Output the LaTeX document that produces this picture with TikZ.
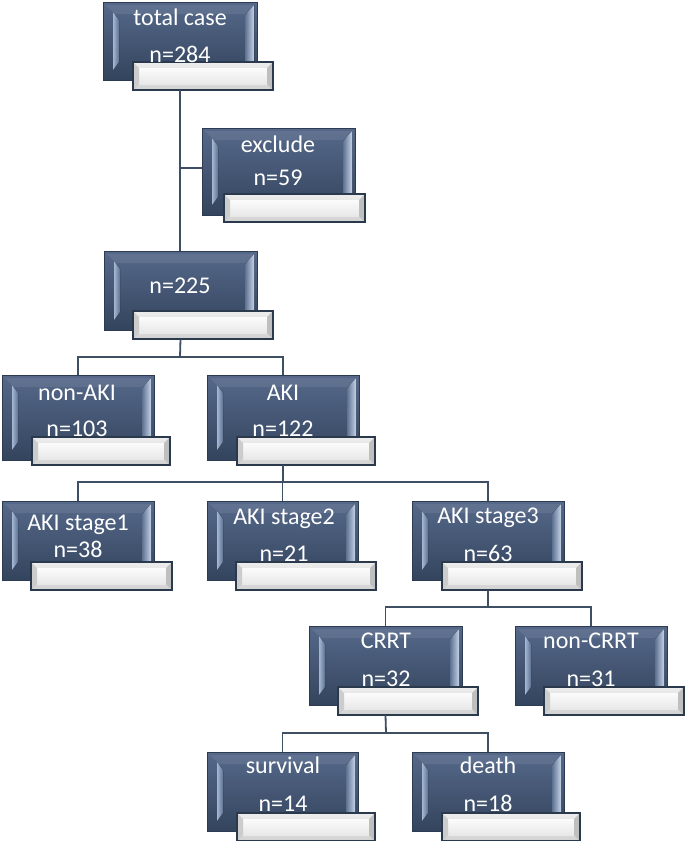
\documentclass[tikz,border=0pt]{standalone}
\usepackage{fontspec}
\setmainfont{Carlito}
\usetikzlibrary{calc}
\definecolor{boxtop}{HTML}{56698A}
\definecolor{boxbot}{HTML}{33445D}
\definecolor{boxedge}{HTML}{2C3B52}
\definecolor{bevelA}{HTML}{A4B7D2}
\definecolor{bevelB}{HTML}{5D7191}
\definecolor{bevelC}{HTML}{C5D3E6}
\definecolor{barA}{HTML}{EDEDED}
\definecolor{barB}{HTML}{D2D2D2}
\definecolor{baredge}{HTML}{2B394D}
\definecolor{conncol}{HTML}{3E4E63}
\tikzset{
  darkbox/.style={rectangle, inner sep=0pt, outer sep=0pt, draw=boxedge, line width=0.8pt,
    top color=boxtop, bottom color=boxbot,
    path picture={
      \coordinate (pnw) at (path picture bounding box.north west);
      \coordinate (pse) at (path picture bounding box.south east);
      \coordinate (psw) at (path picture bounding box.south west);
      \coordinate (pne) at (path picture bounding box.north east);
      \fill[left color=bevelA, right color=bevelB]
        ($(pnw)+(10,10)$) -- ($(pnw)+(16,18)$) -- ($(psw)+(16,-18)$) -- ($(psw)+(10,-10)$) -- cycle;
      \fill[left color=bevelB, right color=bevelC]
        ($(pne)+(-12,13)$) -- ($(pne)+(-3,3)$) -- ($(pse)+(-3,-3)$) -- ($(pse)+(-12,-13)$) -- cycle;
      \fill[boxtop!80!white, opacity=0.35]
        ($(pnw)+(3,3)$) -- ($(pne)+(-3,3)$) -- ($(pne)+(-12,12)$) -- ($(pnw)+(12,12)$) -- cycle;
    }},
  lightbar/.style={rectangle, inner sep=0pt, outer sep=0pt, minimum height=28pt,
    draw=baredge, line width=1.2pt, top color=barA, bottom color=barB,
    path picture={
      \coordinate (qnw) at (path picture bounding box.north west);
      \coordinate (qse) at (path picture bounding box.south east);
      \coordinate (qsw) at (path picture bounding box.south west);
      \coordinate (qne) at (path picture bounding box.north east);
      \fill[top color=white!97!gray, bottom color=gray!18] ($(qnw)+(6,6)$) rectangle ($(qse)+(-6,-6)$);
      \fill[gray!40] ($(qnw)+(1,1)$) -- ($(qnw)+(6,6)$) -- ($(qsw)+(6,-6)$) -- ($(qsw)+(1,-1)$) -- cycle;
      \fill[gray!50] ($(qne)+(-1,1)$) -- ($(qne)+(-6,6)$) -- ($(qse)+(-6,-6)$) -- ($(qse)+(-1,-1)$) -- cycle;
    }},
  txt/.style={text=white, font=\fontsize{24}{28}\selectfont, anchor=base, inner sep=0pt},
  conn/.style={draw=conncol, line width=1.8pt}
}
\newcommand\mkbox[5]{\node[darkbox, minimum width=#4pt, minimum height=#5pt, anchor=north west] (#1) at (#2,#3) {};}
\newcommand\mkbar[4]{\node[lightbar, minimum width=#4pt, anchor=north west] (#1) at (#2,#3) {};}
\begin{document}
\begin{tikzpicture}[x=1pt, y=-1pt]
\useasboundingbox (0,0) rectangle (685,841);
\fill[white] (0,0) rectangle (685,841);

% total case
\mkbox{total}{103}{2}{154}{78}
\mkbar{totalbar}{133}{62}{140}
\node[txt] (totalt1) at (180,25) {total case};
\node[txt] (totalt2) at (180,62) {n=284};

% exclude
\mkbox{exclude}{202}{128}{153}{87}
\mkbar{exclbar}{224}{194}{141}
\node[txt] (exclt1) at (278,152) {exclude};
\node[txt] (exclt2) at (278,185) {n=59};

% n=225
\mkbox{nmain}{104}{251}{153}{79}
\mkbar{nmainbar}{133}{311}{140}
\node[txt] (nmaint) at (180,293) {n=225};

% non-AKI / AKI
\mkbox{nonaki}{2}{375}{152}{85}
\mkbar{nonakibar}{32}{437}{138}
\node[txt] (nonakit1) at (77,400) {non-AKI};
\node[txt] (nonakit2) at (77,436) {n=103};

\mkbox{aki}{207}{375}{152}{85}
\mkbar{akibar}{237}{437}{138}
\node[txt] (akit1) at (283,400) {AKI};
\node[txt] (akit2) at (283,436) {n=122};

% stages
\mkbox{stageA}{2}{501}{152}{79}
\mkbar{stageAbar}{31}{562}{141}
\node[txt] (stageAt1) at (78,530) {AKI stage1};
\node[txt] (stageAt2) at (78,557) {n=38};

\mkbox{stageB}{207}{501}{151}{79}
\mkbar{stageBbar}{236}{562}{140}
\node[txt] (stageBt1) at (284,524) {AKI stage2};
\node[txt] (stageBt2) at (284,561) {n=21};

\mkbox{stageC}{412}{501}{152}{79}
\mkbar{stageCbar}{442}{562}{140}
\node[txt] (stageCt1) at (488,523) {AKI stage3};
\node[txt] (stageCt2) at (488,561) {n=63};

% CRRT
\mkbox{crrt}{309}{626}{153}{79}
\mkbar{crrtbar}{338}{687}{140}
\node[txt] (crrtt1) at (386,648) {CRRT};
\node[txt] (crrtt2) at (386,686) {n=32};

\mkbox{noncrrt}{515}{626}{152}{79}
\mkbar{noncrrtbar}{544}{687}{140}
\node[txt] (noncrrtt1) at (591,648) {non-CRRT};
\node[txt] (noncrrtt2) at (591,686) {n=31};

% outcome
\mkbox{surv}{207}{752}{151}{79}
\mkbar{survbar}{237}{813}{138}
\node[txt] (survt1) at (283,773) {survival};
\node[txt] (survt2) at (283,811) {n=14};

\mkbox{death}{412}{752}{152}{79}
\mkbar{deathbar}{442}{813}{138}
\node[txt] (deatht1) at (488,773) {death};
\node[txt] (deatht2) at (488,811) {n=18};

% connectors
\coordinate (j0) at (180,168);
\draw[conn] (totalbar.south -| total.center) -- (total.center |- nmain.north);
\draw[conn] (j0) -- (j0 -| exclude.west);

\coordinate (j1) at (180,357);
\draw[conn] (nmainbar.south -| nmain.center) -- (j1);
\draw[conn] (nonaki.north) -- (nonaki.north |- j1) -- (aki.north |- j1) -- (aki.north);

\coordinate (j2) at (283,482);
\draw[conn] (akibar.south -| aki.center) -- (j2);
\draw[conn] (stageA.north) -- (stageA.north |- j2) -- (stageC.north |- j2) -- (stageC.north);
\draw[conn] (stageB.north |- j2) -- (stageB.north);

\coordinate (j3) at (488,607);
\draw[conn] (stageCbar.south -| stageC.center) -- (j3);
\draw[conn] (crrt.north) -- (crrt.north |- j3) -- (noncrrt.north |- j3) -- (noncrrt.north);

\coordinate (j4) at (386,733);
\draw[conn] (crrtbar.south -| crrt.center) -- (j4);
\draw[conn] (surv.north) -- (surv.north |- j4) -- (death.north |- j4) -- (death.north);
\end{tikzpicture}
\end{document}
